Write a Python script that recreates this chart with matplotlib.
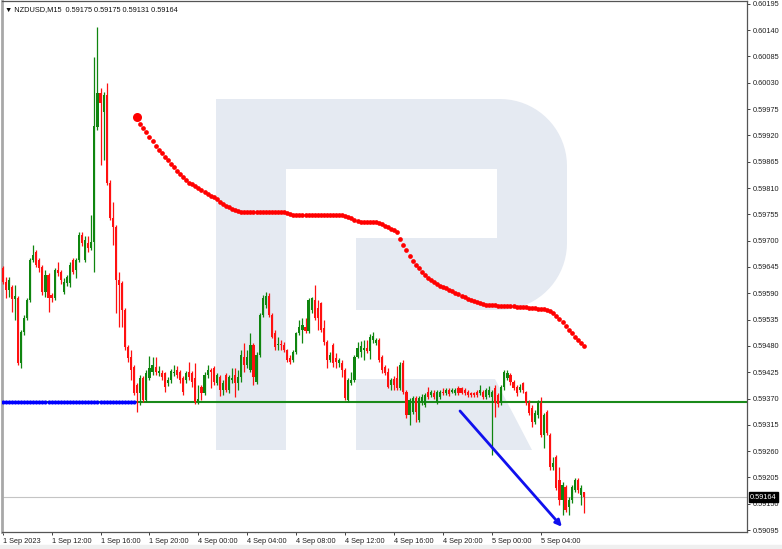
import numpy as np
import matplotlib
matplotlib.use("Agg")
import matplotlib.pyplot as plt
import matplotlib.transforms as mtransforms
from matplotlib.patches import Polygon, Rectangle

# NZDUSD M15, bars from 1 Sep 2023 08:00 to 5 Sep 2023 07:30 (index 0..190)
opens = [0.59643, 0.59614, 0.59597, 0.59603, 0.59578, 0.59580, 0.59444, 0.59509, 0.59538, 0.59576,
         0.59660, 0.59676, 0.59660, 0.59645, 0.59593, 0.59628, 0.59586, 0.59580, 0.59639, 0.59635,
         0.59593, 0.59612, 0.59612, 0.59660, 0.59639, 0.59660, 0.59712, 0.59660, 0.59695, 0.59685,
         0.59697, 0.59938, 0.60009, 0.59969, 0.60004, 0.59821, 0.59747, 0.59729, 0.59618, 0.59612,
         0.59555, 0.59478, 0.59457, 0.59436, 0.59398, 0.59382, 0.59413, 0.59367, 0.59413, 0.59426,
         0.59436, 0.59423, 0.59423, 0.59423, 0.59403, 0.59409, 0.59423, 0.59430, 0.59426, 0.59413,
         0.59409, 0.59426, 0.59423, 0.59413, 0.59363, 0.59394, 0.59382, 0.59419, 0.59430, 0.59434,
         0.59403, 0.59415, 0.59388, 0.59419, 0.59388, 0.59409, 0.59419, 0.59403, 0.59415, 0.59457,
         0.59440, 0.59430, 0.59482, 0.59405, 0.59461, 0.59545, 0.59566, 0.59584, 0.59545, 0.59507,
         0.59482, 0.59484, 0.59482, 0.59471, 0.59455, 0.59451, 0.59467, 0.59507, 0.59513, 0.59520,
         0.59511, 0.59555, 0.59576, 0.59559, 0.59570, 0.59518, 0.59488, 0.59451, 0.59482, 0.59455,
         0.59444, 0.59444, 0.59430, 0.59367, 0.59403, 0.59409, 0.59457, 0.59467, 0.59471, 0.59476,
         0.59469, 0.59492, 0.59486, 0.59492, 0.59457, 0.59436, 0.59426, 0.59398, 0.59411, 0.59413,
         0.59392, 0.59444, 0.59384, 0.59336, 0.59342, 0.59371, 0.59325, 0.59361, 0.59357, 0.59384,
         0.59377, 0.59382, 0.59363, 0.59373, 0.59384, 0.59382, 0.59388, 0.59384, 0.59382, 0.59392,
         0.59392, 0.59388, 0.59384, 0.59382, 0.59382, 0.59384, 0.59382, 0.59384, 0.59373, 0.59377,
         0.59373, 0.59392, 0.59377, 0.59361, 0.59394, 0.59413, 0.59419, 0.59405, 0.59394, 0.59388,
         0.59403, 0.59384, 0.59361, 0.59350, 0.59321, 0.59336, 0.59361, 0.59294, 0.59342, 0.59294,
         0.59227, 0.59248, 0.59200, 0.59158, 0.59185, 0.59143, 0.59158, 0.59179, 0.59200, 0.59168,
         0.59175]
highs = [0.59647, 0.59624, 0.59624, 0.59607, 0.59607, 0.59584, 0.59513, 0.59545, 0.59580, 0.59664,
         0.59691, 0.59680, 0.59664, 0.59649, 0.59639, 0.59632, 0.59591, 0.59643, 0.59655, 0.59639,
         0.59622, 0.59628, 0.59655, 0.59664, 0.59664, 0.59718, 0.59718, 0.59710, 0.59710, 0.59754,
         0.60084, 0.60147, 0.60019, 0.60011, 0.60030, 0.59827, 0.59781, 0.59733, 0.59635, 0.59616,
         0.59559, 0.59482, 0.59471, 0.59440, 0.59403, 0.59419, 0.59417, 0.59430, 0.59459, 0.59457,
         0.59457, 0.59438, 0.59430, 0.59426, 0.59415, 0.59432, 0.59440, 0.59438, 0.59430, 0.59417,
         0.59428, 0.59446, 0.59428, 0.59444, 0.59398, 0.59398, 0.59426, 0.59440, 0.59434, 0.59438,
         0.59423, 0.59419, 0.59409, 0.59423, 0.59419, 0.59434, 0.59434, 0.59430, 0.59471, 0.59486,
         0.59471, 0.59507, 0.59486, 0.59467, 0.59549, 0.59586, 0.59593, 0.59591, 0.59549, 0.59513,
         0.59499, 0.59492, 0.59488, 0.59474, 0.59461, 0.59471, 0.59509, 0.59534, 0.59538, 0.59538,
         0.59580, 0.59582, 0.59607, 0.59576, 0.59572, 0.59534, 0.59492, 0.59467, 0.59486, 0.59465,
         0.59455, 0.59451, 0.59434, 0.59413, 0.59426, 0.59461, 0.59488, 0.59490, 0.59492, 0.59492,
         0.59505, 0.59509, 0.59497, 0.59497, 0.59461, 0.59440, 0.59434, 0.59413, 0.59417, 0.59438,
         0.59446, 0.59451, 0.59388, 0.59371, 0.59375, 0.59375, 0.59375, 0.59380, 0.59382, 0.59394,
         0.59388, 0.59388, 0.59388, 0.59388, 0.59392, 0.59392, 0.59392, 0.59392, 0.59392, 0.59396,
         0.59394, 0.59392, 0.59388, 0.59384, 0.59384, 0.59388, 0.59398, 0.59388, 0.59392, 0.59396,
         0.59388, 0.59398, 0.59382, 0.59398, 0.59430, 0.59430, 0.59423, 0.59409, 0.59398, 0.59400,
         0.59405, 0.59386, 0.59367, 0.59357, 0.59346, 0.59367, 0.59373, 0.59340, 0.59346, 0.59298,
         0.59248, 0.59252, 0.59227, 0.59196, 0.59189, 0.59164, 0.59189, 0.59204, 0.59204, 0.59189,
         0.59175]
lows = [0.59609, 0.59580, 0.59582, 0.59551, 0.59534, 0.59440, 0.59434, 0.59503, 0.59534, 0.59572,
        0.59655, 0.59645, 0.59635, 0.59586, 0.59582, 0.59551, 0.59572, 0.59576, 0.59626, 0.59609,
        0.59589, 0.59605, 0.59603, 0.59630, 0.59622, 0.59655, 0.59689, 0.59655, 0.59676, 0.59680,
        0.59635, 0.59931, 0.59858, 0.59869, 0.59816, 0.59743, 0.59691, 0.59549, 0.59520, 0.59520,
        0.59471, 0.59446, 0.59409, 0.59377, 0.59342, 0.59357, 0.59363, 0.59363, 0.59409, 0.59419,
        0.59419, 0.59417, 0.59409, 0.59384, 0.59396, 0.59403, 0.59417, 0.59413, 0.59403, 0.59377,
        0.59403, 0.59409, 0.59394, 0.59359, 0.59359, 0.59367, 0.59377, 0.59413, 0.59392, 0.59398,
        0.59398, 0.59375, 0.59377, 0.59384, 0.59382, 0.59403, 0.59373, 0.59388, 0.59405, 0.59426,
        0.59434, 0.59426, 0.59398, 0.59400, 0.59457, 0.59540, 0.59559, 0.59540, 0.59497, 0.59471,
        0.59471, 0.59471, 0.59467, 0.59446, 0.59442, 0.59446, 0.59463, 0.59503, 0.59486, 0.59507,
        0.59507, 0.59549, 0.59534, 0.59513, 0.59509, 0.59482, 0.59434, 0.59446, 0.59436, 0.59434,
        0.59436, 0.59415, 0.59367, 0.59363, 0.59398, 0.59405, 0.59455, 0.59457, 0.59451, 0.59465,
        0.59453, 0.59486, 0.59482, 0.59446, 0.59423, 0.59419, 0.59392, 0.59388, 0.59388, 0.59388,
        0.59388, 0.59380, 0.59329, 0.59315, 0.59338, 0.59321, 0.59321, 0.59357, 0.59352, 0.59369,
        0.59373, 0.59369, 0.59359, 0.59369, 0.59377, 0.59377, 0.59375, 0.59382, 0.59377, 0.59377,
        0.59380, 0.59377, 0.59373, 0.59373, 0.59373, 0.59373, 0.59377, 0.59369, 0.59369, 0.59373,
        0.59252, 0.59332, 0.59352, 0.59357, 0.59388, 0.59409, 0.59398, 0.59388, 0.59375, 0.59384,
        0.59382, 0.59357, 0.59336, 0.59311, 0.59317, 0.59329, 0.59290, 0.59267, 0.59294, 0.59221,
        0.59221, 0.59179, 0.59148, 0.59127, 0.59133, 0.59127, 0.59152, 0.59175, 0.59173, 0.59148,
        0.59131]
closes = [0.59614, 0.59597, 0.59618, 0.59578, 0.59584, 0.59444, 0.59509, 0.59538, 0.59576, 0.59660,
          0.59670, 0.59649, 0.59643, 0.59593, 0.59628, 0.59580, 0.59580, 0.59639, 0.59632, 0.59618,
          0.59614, 0.59624, 0.59649, 0.59635, 0.59660, 0.59712, 0.59695, 0.59701, 0.59685, 0.59697,
          0.59940, 0.60009, 0.59988, 0.60004, 0.59821, 0.59747, 0.59729, 0.59618, 0.59607, 0.59555,
          0.59478, 0.59455, 0.59430, 0.59382, 0.59382, 0.59413, 0.59367, 0.59423, 0.59434, 0.59440,
          0.59426, 0.59428, 0.59415, 0.59394, 0.59409, 0.59428, 0.59426, 0.59419, 0.59409, 0.59384,
          0.59423, 0.59415, 0.59405, 0.59363, 0.59369, 0.59382, 0.59419, 0.59430, 0.59426, 0.59405,
          0.59419, 0.59388, 0.59403, 0.59388, 0.59415, 0.59413, 0.59403, 0.59415, 0.59461, 0.59440,
          0.59457, 0.59482, 0.59415, 0.59461, 0.59545, 0.59580, 0.59584, 0.59545, 0.59499, 0.59478,
          0.59484, 0.59482, 0.59471, 0.59451, 0.59446, 0.59467, 0.59507, 0.59520, 0.59524, 0.59511,
          0.59576, 0.59580, 0.59538, 0.59538, 0.59513, 0.59488, 0.59451, 0.59461, 0.59444, 0.59446,
          0.59451, 0.59430, 0.59371, 0.59409, 0.59409, 0.59457, 0.59476, 0.59480, 0.59476, 0.59469,
          0.59499, 0.59501, 0.59492, 0.59451, 0.59430, 0.59423, 0.59394, 0.59409, 0.59398, 0.59392,
          0.59440, 0.59384, 0.59336, 0.59367, 0.59371, 0.59342, 0.59371, 0.59373, 0.59377, 0.59373,
          0.59384, 0.59373, 0.59384, 0.59384, 0.59382, 0.59388, 0.59380, 0.59388, 0.59388, 0.59382,
          0.59382, 0.59382, 0.59377, 0.59377, 0.59377, 0.59377, 0.59388, 0.59373, 0.59388, 0.59388,
          0.59384, 0.59361, 0.59359, 0.59394, 0.59426, 0.59423, 0.59405, 0.59392, 0.59382, 0.59394,
          0.59388, 0.59361, 0.59340, 0.59321, 0.59340, 0.59361, 0.59294, 0.59336, 0.59298, 0.59227,
          0.59235, 0.59183, 0.59158, 0.59189, 0.59137, 0.59158, 0.59185, 0.59200, 0.59179, 0.59183,
          0.59164]

# dotted indicator: red part starts at bar 44, blue flat part before it
ma_start = 44
ma_values = [0.59958, 0.59944, 0.59935, 0.59927, 0.59917, 0.59908, 0.59898, 0.59889, 0.59883, 0.59875,
             0.59869, 0.59860, 0.59854, 0.59846, 0.59839, 0.59833, 0.59827, 0.59821, 0.59818, 0.59814,
             0.59810, 0.59806, 0.59802, 0.59797, 0.59793, 0.59791, 0.59787, 0.59781, 0.59777, 0.59772,
             0.59770, 0.59766, 0.59764, 0.59762,
             0.59760, 0.59760, 0.59760, 0.59760, 0.59760, 0.59760, 0.59760, 0.59760, 0.59760, 0.59760,
             0.59760, 0.59760, 0.59760, 0.59760, 0.59760,
             0.59758, 0.59756,
             0.59754, 0.59754, 0.59754, 0.59754, 0.59754, 0.59754, 0.59754, 0.59754, 0.59754, 0.59754,
             0.59754, 0.59754, 0.59754, 0.59754, 0.59754, 0.59754, 0.59754,
             0.59752, 0.59749, 0.59747, 0.59743, 0.59741,
             0.59739, 0.59739, 0.59739, 0.59739, 0.59739, 0.59739,
             0.59737, 0.59735, 0.59731, 0.59729, 0.59724, 0.59722, 0.59718, 0.59703, 0.59691, 0.59680,
             0.59668, 0.59657, 0.59649, 0.59643, 0.59635, 0.59628, 0.59622, 0.59618, 0.59614, 0.59609,
             0.59605, 0.59603, 0.59601, 0.59597, 0.59595, 0.59591, 0.59589, 0.59584, 0.59582, 0.59578,
             0.59576, 0.59574, 0.59572, 0.59570, 0.59568,
             0.59566, 0.59566, 0.59566, 0.59566,
             0.59563, 0.59563, 0.59563, 0.59563, 0.59563, 0.59563,
             0.59561, 0.59561, 0.59561, 0.59561,
             0.59559, 0.59559, 0.59559,
             0.59557, 0.59557, 0.59557,
             0.59555, 0.59553, 0.59549, 0.59543, 0.59536, 0.59530, 0.59522, 0.59513, 0.59507, 0.59499,
             0.59492, 0.59486, 0.59480]
level = 0.59363

tick_bars = [0, 16, 32, 48, 64, 80, 96, 112, 128, 144, 160, 176]
tick_labels = ["1 Sep 2023", "1 Sep 12:00", "1 Sep 16:00", "1 Sep 20:00", "4 Sep 00:00",
               "4 Sep 04:00", "4 Sep 08:00", "4 Sep 12:00", "4 Sep 16:00", "4 Sep 20:00",
               "5 Sep 00:00", "5 Sep 04:00"]
price_ticks = [0.59095, 0.59150, 0.59205, 0.59260, 0.59315, 0.59370, 0.59425, 0.59480, 0.59535,
               0.59590, 0.59645, 0.59700, 0.59755, 0.59810, 0.59865, 0.59920, 0.59975, 0.60030,
               0.60085, 0.60140, 0.60195]

# trend arrow (bar index, price)
arrow_start = (149.5, 0.59344)
arrow_end = (182.8, 0.59102)

GREEN = "#0f850f"
RED = "#ff1010"
FONT = ["Liberation Sans", "DejaVu Sans"]
FS = 5.3

W, H = 782, 549
fig = plt.figure(figsize=(W / 100, H / 100), dpi=100)
fig.patches.append(Rectangle((0, 0), 1, 4 / H, transform=fig.transFigure,
                             color="#efefef", zorder=0))
ax = fig.add_axes([2 / W, 17 / H, 745 / W, 531 / H])

# background logo, in figure pixels (y down)
px = mtransforms.Affine2D().scale(1 / W, -1 / H).translate(0, 1) + fig.transFigure
t1 = np.linspace(np.pi / 2, 0, 20)
t2 = np.linspace(0, -np.pi / 2, 20)
bowl = [(216, 99), (500, 99)]
bowl += [(500 + 67 * np.cos(t), 166 - 67 * np.sin(t)) for t in t1]
bowl += [(500 + 67 * np.cos(t), 243 - 67 * np.sin(t)) for t in t2]
bowl += [(356, 310), (356, 238), (497, 238), (497, 169), (286, 169), (286, 450), (216, 450)]
logo = "#e5eaf2"
ax.add_patch(Polygon(bowl, closed=True, transform=px, fc=logo, ec="none", zorder=0))
ax.add_patch(Polygon([(356, 379), (495, 379), (532, 450), (356, 450)], closed=True,
                     transform=px, fc=logo, ec="none", zorder=0))

o = np.array(opens)
h = np.array(highs)
l = np.array(lows)
c = np.array(closes)
x = np.arange(len(c))
col = np.where(c >= o, GREEN, RED)

ax.axhline(c[-1], color="#c4c4c4", lw=0.8, zorder=1)
ax.axhline(level, color="#1a8a1a", lw=1.5, zorder=2)

ax.vlines(x, l, h, colors=col, lw=0.9, zorder=3)
ax.bar(x, np.maximum(np.abs(c - o), 0.000014), width=0.7, bottom=np.minimum(o, c),
       color=col, lw=0, zorder=4)

ax.plot(x[:ma_start], [level] * ma_start, "o", color="#0000ff", ms=3.0, mew=0, zorder=5)
ma_x = np.arange(ma_start, ma_start + len(ma_values))
ax.plot(ma_x, ma_values, "o", color="#ff0000", ms=3.4, mew=0, zorder=5)
ax.plot(ma_x[0], ma_values[0], "o", color="#ff0000", ms=6.5, mew=0, zorder=5)

ax.annotate("", xy=arrow_end, xytext=arrow_start,
            arrowprops=dict(arrowstyle="-|>", color="#1010ee", lw=2.0, mutation_scale=9,
                            shrinkA=0, shrinkB=0), zorder=6)

ax.set_xlim(-0.2, 243.3)
ax.set_ylim(0.59091, 0.60201)

ax.yaxis.tick_right()
ax.set_yticks(price_ticks)
ax.set_yticklabels([f"{p:.5f}" for p in price_ticks])
ax.set_xticks(tick_bars)
ax.set_xticklabels(tick_labels, ha="left")
ax.tick_params(axis="both", direction="out", length=2.5, width=0.7, color="#404040",
               labelsize=FS, pad=1.5, labelcolor="#202020")
for lab in ax.get_xticklabels() + ax.get_yticklabels():
    lab.set_family(FONT)

for side in ["top", "right", "bottom"]:
    ax.spines[side].set_color("#555555")
    ax.spines[side].set_linewidth(0.9)
ax.spines["left"].set_color("#a8a8a8")
ax.spines["left"].set_linewidth(2.0)

title = f"\u25bc NZDUSD,M15  {o[-1]:.5f} {h[-1]:.5f} {l[-1]:.5f} {c[-1]:.5f}"
ax.text(0.004, 0.984, title, transform=ax.transAxes, fontsize=FS, family=FONT,
        va="center", ha="left", color="#101010")

ax.text(1.004, c[-1], f"{c[-1]:.5f}", transform=ax.get_yaxis_transform(),
        fontsize=FS, family=FONT, color="white", va="center", ha="left", zorder=10,
        bbox=dict(boxstyle="square,pad=0.15", fc="black", ec="black"), clip_on=False)

fig.savefig("out.png", dpi=100)
